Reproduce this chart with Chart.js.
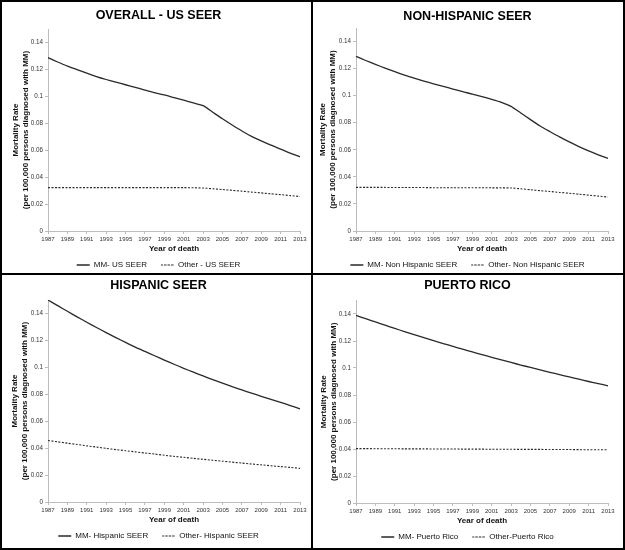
<!DOCTYPE html>
<html>
<head>
<meta charset="utf-8">
<script src="https://cdn.jsdelivr.net/npm/chart.js@4/dist/chart.umd.min.js"></script>
<style>
  html, body { margin: 0; padding: 0; background: #fff; }
  #frame { position: relative; width: 625px; height: 550px; background: #000; overflow: hidden; }
  .panel { position: absolute; background: #fff; overflow: hidden; }
  .panel canvas { position: absolute; left: 0; top: 0; }
</style>
</head>
<body>
<div id="frame">
  <div class="panel" id="p1" style="left:2px;top:2px;width:309px;height:271px;"><canvas id="c1"></canvas></div>
  <div class="panel" id="p2" style="left:313px;top:2px;width:310px;height:271px;"><canvas id="c2"></canvas></div>
  <div class="panel" id="p3" style="left:2px;top:275px;width:309px;height:273px;"><canvas id="c3"></canvas></div>
  <div class="panel" id="p4" style="left:313px;top:275px;width:310px;height:273px;"><canvas id="c4"></canvas></div>
</div>
<script>
// ---- DATA ----
const years = ['1987','1988','1989','1990','1991','1992','1993','1994','1995','1996','1997','1998','1999','2000',
               '2001','2002','2003','2004','2005','2006','2007','2008','2009','2010','2011','2012','2013'];

const panelTitles = ['OVERALL - US SEER', 'NON-HISPANIC SEER', 'HISPANIC SEER', 'PUERTO RICO'];

const mmLabels    = ['MM- US SEER', 'MM- Non Hispanic SEER', 'MM- Hispanic SEER', 'MM- Puerto Rico'];
const otherLabels = ['Other - US SEER', 'Other- Non Hispanic SEER', 'Other- Hispanic SEER', 'Other-Puerto Rico'];

const mmUS = [0.1287,0.1255,0.1225,0.1199,0.1172,0.1147,0.1125,0.1105,0.1086,0.1066,0.1047,0.1027,0.1010,0.0990,
              0.0971,0.0951,0.0931,0.0882,0.0833,0.0787,0.0743,0.0703,0.0669,0.0637,0.0608,0.0578,0.0551];
const otherUS = [0.0322,0.0322,0.0322,0.0322,0.0322,0.0322,0.0322,0.0322,0.0322,0.0322,0.0322,0.0322,0.0322,0.0322,
                 0.0322,0.0321,0.0319,0.0314,0.0308,0.0302,0.0296,0.0289,0.0283,0.0276,0.0270,0.0263,0.0256];

const mmNonHisp = [0.1290,0.1260,0.1231,0.1204,0.1177,0.1152,0.1130,0.1108,0.1088,0.1069,0.1049,0.1029,0.1012,0.0993,
                   0.0973,0.0951,0.0921,0.0872,0.0823,0.0776,0.0735,0.0695,0.0658,0.0624,0.0592,0.0563,0.0536];
const otherNonHisp = [0.0322,0.0322,0.0322,0.0322,0.0321,0.0321,0.0321,0.0321,0.0320,0.0320,0.0320,0.0320,0.0320,0.0320,
                      0.0319,0.0319,0.0318,0.0312,0.0305,0.0298,0.0292,0.0285,0.0279,0.0272,0.0265,0.0258,0.0251];

const mmHisp = [0.1500,0.1458,0.1416,0.1375,0.1335,0.1296,0.1258,0.1221,0.1185,0.1150,0.1118,0.1086,0.1054,0.1023,
                0.0993,0.0964,0.0936,0.0909,0.0882,0.0857,0.0832,0.0808,0.0785,0.0762,0.0740,0.0716,0.0692];
const otherHisp = [0.0457,0.0447,0.0437,0.0427,0.0417,0.0408,0.0398,0.0389,0.0381,0.0372,0.0364,0.0356,0.0347,0.0339,
                   0.0332,0.0324,0.0317,0.0310,0.0303,0.0296,0.0289,0.0282,0.0276,0.0269,0.0263,0.0257,0.0250];

const mmPR = [0.1390,0.1365,0.1341,0.1317,0.1293,0.1270,0.1247,0.1225,0.1203,0.1181,0.1160,0.1139,0.1119,0.1099,
              0.1079,0.1060,0.1041,0.1022,0.1004,0.0986,0.0968,0.0951,0.0934,0.0917,0.0900,0.0884,0.0868];
const otherPR = [0.0403,0.0403,0.0402,0.0402,0.0402,0.0401,0.0401,0.0401,0.0400,0.0400,0.0400,0.0399,0.0399,0.0399,
                 0.0398,0.0398,0.0398,0.0397,0.0397,0.0397,0.0396,0.0396,0.0396,0.0395,0.0395,0.0395,0.0395];

const yAxisTitle = ['Mortality Rate', '(per 100,000 persons diagnosed with MM)'];
const xAxisTitle = 'Year of death';
const yTickMax = 0.14;

// ---- LAYOUT (panel geometry, not data) ----
const FONT = 'Arial, "Liberation Sans", Helvetica, sans-serif';
const layouts = [
  {id:'c1', w:309, h:271, padL:15, left:46, right:298, top:27,   bottom:229, titleY:14,   ytl:14},
  {id:'c2', w:310, h:271, padL:14, left:43, right:295, top:26,   bottom:229, titleY:14.5, ytl:10},
  {id:'c3', w:309, h:273, padL:15, left:46, right:298, top:25,   bottom:227, titleY:11,   ytl:13},
  {id:'c4', w:310, h:273, padL:14, left:43, right:295, top:25.5, bottom:228, titleY:11,   ytl:11}
];
const seriesMM = [mmUS, mmNonHisp, mmHisp, mmPR];
const seriesOther = [otherUS, otherNonHisp, otherHisp, otherPR];

const TITLE_SIZE = 12.5, TITLE_LH = 15;
const XAXIS_H = 16, LEGEND_PAD = 14, LEGEND_FONT = 8;
const XTITLE_BELOW = 17.5;   // title centre below the axis line
const EXTRA = 20;

layouts.forEach((L, i) => {
  const canvas = document.getElementById(L.id);
  const cH = L.h + EXTRA;
  canvas.width = L.w; canvas.height = cH;
  canvas.style.width = L.w + 'px'; canvas.style.height = cH + 'px';
  const legendH = LEGEND_FONT + LEGEND_PAD + 10;
  const padBottom = cH - L.bottom - XAXIS_H - legendH;

  new Chart(canvas, {
    type: 'line',
    data: {
      labels: years,
      datasets: [
        { label: mmLabels[i], data: seriesMM[i], borderColor: '#2a2a2a', backgroundColor: 'transparent',
          borderWidth: 1.3, pointRadius: 0, tension: 0.2, fill: false },
        { label: otherLabels[i], data: seriesOther[i], borderColor: '#2a2a2a', backgroundColor: 'transparent',
          borderWidth: 1.1, borderDash: [2, 1.5], pointRadius: 0, tension: 0.2, fill: false }
      ]
    },
    options: {
      responsive: false,
      animation: false,
      devicePixelRatio: 1,
      layout: { padding: { left: L.padL, right: L.w - L.right, top: 0, bottom: padBottom } },
      plugins: {
        tooltip: { enabled: false },
        title: {
          display: true, text: panelTitles[i], color: '#000',
          font: { family: FONT, size: TITLE_SIZE, weight: 'bold', lineHeight: TITLE_LH / TITLE_SIZE },
          padding: { top: L.titleY - TITLE_LH / 2, bottom: L.top - L.titleY - TITLE_LH / 2 }
        },
        legend: {
          display: true, position: 'bottom',
          labels: {
            color: '#111', font: { family: FONT, size: LEGEND_FONT },
            boxWidth: 13, boxHeight: 0, padding: LEGEND_PAD
          }
        }
      },
      scales: {
        x: {
          type: 'category', offset: false,
          afterFit: s => { s.height = XAXIS_H; },
          border: { color: '#bdbdbd', width: 1 },
          grid: { display: true, drawOnChartArea: false, tickLength: 3,
                  tickColor: c => (c.index % 2 === 0 ? '#bdbdbd' : 'rgba(0,0,0,0)') },
          ticks: { autoSkip: false, maxRotation: 0, minRotation: 0, padding: 2, color: '#333',
                   font: { family: FONT, size: 6 },
                   callback: function(v, idx) { return idx % 2 === 0 ? this.getLabelForValue(v) : ''; } },
          title: { display: true, text: xAxisTitle, color: '#111',
                   font: { family: FONT, size: 8, weight: 'bold', lineHeight: 1.2 },
                   padding: { top: 0, bottom: XAXIS_H - XTITLE_BELOW - 4.8 } }
        },
        y: {
          type: 'linear', min: 0, max: 0.15, bounds: 'data',
          afterFit: s => { s.width = L.left - L.padL; },
          afterBuildTicks: s => { s.ticks = s.ticks.filter(t => t.value <= yTickMax + 1e-9); },
          border: { color: '#bdbdbd', width: 1 },
          grid: { display: true, drawOnChartArea: false, tickLength: 3, color: '#bdbdbd' },
          ticks: { stepSize: 0.02, padding: 2, color: '#333',
                   font: { family: FONT, size: 6.3 },
                   callback: v => String(Number(v.toFixed(2))) },
          title: { display: true, text: yAxisTitle, color: '#111',
                   font: { family: FONT, size: 8, weight: 'bold', lineHeight: 1.25 },
                   padding: { top: L.ytl - 5 - L.padL, bottom: 0 } }
        }
      }
    }
  });
});
</script>
</body>
</html>
